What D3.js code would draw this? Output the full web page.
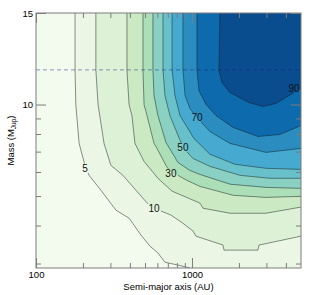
<!DOCTYPE html>
<html><head><meta charset="utf-8">
<script src="https://cdn.jsdelivr.net/npm/d3@7"></script>
<style>
html,body{margin:0;padding:0;background:#fff;}
text{font-family:"Liberation Sans",Arial,Helvetica,sans-serif;}
</style>
</head><body>
<svg id="chart" width="309" height="295"></svg>
<script>
// ---- data ----
const xDomain = [100, 5000];      // semi-major axis (AU)
const yDomain = [2.9, 20];        // mass (M_Jup)
const levels = [5, 10, 20, 30, 40, 50, 60, 70, 80, 90];
const bandColors = ["#f3faee", "#ebf7e4", "#ddf1d7", "#cbeac4", "#acdeb8",
                    "#8ad1c3", "#68c1ca", "#45a9d0", "#2b8cbf", "#0d6aad", "#0a4d8e"];

// contour polylines as [a (AU), M (M_Jup)]
const contour5  = [[178,20],[178,13.0],[180,10],[189,7.45],[206,6.31],[219,5.85],[261,5.22],[326,4.49],[395,4.23],[471,3.72],[538,3.42],[605,3.25],[671,3.03],[801,2.97],[971,2.9]];
const contour10 = [[242,20],[242,13.0],[250,10],[273,7.45],[302,6.31],[361,5.85],[438,5.22],[530,4.67],[571,4.56],[733,4.33],[875,4.07],[1014,3.84],[1061,3.69],[1581,3.45],[1604,3.32],[2649,3.32],[2687,3.45],[5000,3.69]];
const contour20 = [[383,20],[383,13.0],[395,10],[412,9.2],[431,7.45],[493,6.5],[605,5.72],[745,5.19],[1125,4.74],[1178,4.56],[1753,4.39],[2981,4.39],[5000,4.6]];
const contour30 = [[485,20],[485,13.0],[493,10],[515,9.2],[571,7.45],[597,7.17],[692,6.21],[745,5.98],[813,5.85],[929,5.63],[1125,5.38],[1832,5.03],[2981,4.95],[5000,4.99]];
const contour40 = [[562,20],[562,13.0],[571,10.7],[605,9.2],[681,7.51],[813,6.45],[971,6.07],[1125,5.89],[1753,5.47],[2981,5.34],[5000,5.30]];
const contour50 = [[652,20],[652,13.0],[671,10.7],[722,9.2],[875,7.23],[1014,6.65],[1304,6.26],[2032,5.85],[3162,5.72],[5000,5.72]];
const contour60 = [[745,20],[745,13.0],[778,10.7],[838,9.2],[1030,7.73],[1304,6.86],[1887,6.36],[2981,6.17],[5000,6.12]];
const contour70 = [[875,20],[875,13.0],[903,10.7],[971,9.7],[1076,9.06],[1304,8.15],[1753,7.45],[2981,6.96],[5000,7.17]];
const contour80 = [[1076,20],[1076,13.0],[1109,11.1],[1230,10],[1425,9.2],[1832,8.41],[2649,7.85],[3664,7.97],[5000,8.53]];
const contour90 = [[1511,20],[1489,12.9],[1557,11.8],[1753,10.95],[2318,10.15],[2852,9.85],[3454,10.08],[4188,10.7],[5000,11.28]];
const contourPaths = [contour5, contour10, contour20, contour30, contour40,
                      contour50, contour60, contour70, contour80, contour90];

const labelTexts = ["5", "10", "30", "50", "70", "90"];
const labelA = [206, 571, 733, 875, 1076, 4508];
const labelM = [6.17, 4.56, 5.94, 7.23, 9.06, 11.28];

const xMajor = [100, 1000];
const xMajorLabels = ["100", "1000"];
const xMinor = [200, 300, 400, 500, 600, 700, 800, 900, 2000, 3000, 4000];
const yMajor = [20, 10];
const yMajorLabels = ["15", "10"];
const yMinor = [9, 8, 7, 6, 5, 4, 3];
const dashedMass = 13;

// ---- layout ----
const L = 36, R = 301, T = 13, B = 268;
const FS = 9.5;
const svg = d3.select("#chart");
const x = d3.scaleLog().domain(xDomain).range([L, R]);
const y = d3.scaleLog().domain(yDomain).range([B, T]);

const defs = svg.append("defs");
defs.append("clipPath").attr("id", "plotclip")
  .append("rect").attr("x", L).attr("y", T).attr("width", R - L).attr("height", B - T);

const plot = svg.append("g").attr("clip-path", "url(#plotclip)");
plot.append("rect").attr("x", L).attr("y", T).attr("width", R - L).attr("height", B - T)
  .attr("fill", bandColors[0]);

const line = d3.line().x(d => x(d[0])).y(d => y(d[1]));

// filled bands (region above/right of each contour)
contourPaths.forEach((pts, i) => {
  const poly = pts.slice();
  const last = pts[pts.length - 1];
  if (last[1] <= yDomain[0] + 1e-9) poly.push([xDomain[1], yDomain[0]]);
  poly.push([xDomain[1], yDomain[1]]);
  plot.append("path").attr("d", line(poly) + "Z").attr("fill", bandColors[i + 1]).attr("stroke", "none");
});

// contour labels (measured for a mask that breaks the lines)
const mask = defs.append("mask").attr("id", "lblmask");
mask.append("rect").attr("x", 0).attr("y", 0).attr("width", 309).attr("height", 295).attr("fill", "white");

const lblG = svg.append("g");
const lbls = lblG.selectAll("text").data(labelTexts).join("text")
  .attr("x", (d, i) => x(labelA[i]))
  .attr("y", (d, i) => y(labelM[i]))
  .attr("dy", "0.35em")
  .attr("text-anchor", "middle")
  .attr("font-size", 10)
  .attr("fill", "#111")
  .text(d => d);
lbls.each(function () {
  const b = this.getBBox();
  mask.append("rect").attr("x", b.x - 1).attr("y", b.y + 1).attr("width", b.width + 2).attr("height", b.height - 2).attr("fill", "black");
});

// contour lines
const lineG = plot.append("g").attr("mask", "url(#lblmask)");
contourPaths.forEach(pts => {
  lineG.append("path").attr("d", line(pts)).attr("fill", "none")
    .attr("stroke", "rgba(20,30,30,0.55)").attr("stroke-width", 0.9);
});

// dashed line
plot.append("line").attr("x1", L).attr("x2", R).attr("y1", y(dashedMass)).attr("y2", y(dashedMass))
  .attr("stroke", "rgba(25,25,130,0.45)").attr("stroke-width", 1).attr("stroke-dasharray", "4,3");

lblG.raise();

// axes (ticks inward)
const axisStyle = g => {
  g.select(".domain").remove();
  g.selectAll(".tick line").attr("stroke", "#7d7d7d");
  g.selectAll("text").attr("font-size", FS).attr("fill", "#000")
    .attr("font-family", "'Liberation Sans', Arial, sans-serif");
};
svg.append("g").attr("transform", `translate(0,${B})`)
  .call(d3.axisBottom(x).tickValues(xMajor).tickFormat((d, i) => xMajorLabels[i]).tickSize(-10).tickPadding(3)).call(axisStyle);
svg.append("g").attr("transform", `translate(0,${B})`)
  .call(d3.axisBottom(x).tickValues(xMinor).tickFormat("").tickSize(-5)).call(axisStyle);
svg.append("g").attr("transform", `translate(0,${T})`)
  .call(d3.axisTop(x).tickValues(xMajor).tickFormat("").tickSize(-10)).call(axisStyle);
svg.append("g").attr("transform", `translate(0,${T})`)
  .call(d3.axisTop(x).tickValues(xMinor).tickFormat("").tickSize(-5)).call(axisStyle);
svg.append("g").attr("transform", `translate(${L},0)`)
  .call(d3.axisLeft(y).tickValues(yMajor).tickFormat((d, i) => yMajorLabels[i]).tickSize(-10).tickPadding(3)).call(axisStyle);
svg.append("g").attr("transform", `translate(${L},0)`)
  .call(d3.axisLeft(y).tickValues(yMinor).tickFormat("").tickSize(-5)).call(axisStyle);
svg.append("g").attr("transform", `translate(${R},0)`)
  .call(d3.axisRight(y).tickValues(yMajor).tickFormat("").tickSize(-10)).call(axisStyle);
svg.append("g").attr("transform", `translate(${R},0)`)
  .call(d3.axisRight(y).tickValues(yMinor).tickFormat("").tickSize(-5)).call(axisStyle);

// frame
svg.append("rect").attr("x", L).attr("y", T).attr("width", R - L).attr("height", B - T)
  .attr("fill", "none").attr("stroke", "#7d7d7d").attr("stroke-width", 1);

// axis titles
svg.append("text").attr("x", (L + R) / 2).attr("y", 289.5).attr("text-anchor", "middle")
  .attr("font-size", FS).attr("fill", "#000").text("Semi-major axis (AU)");
const yt = svg.append("text").attr("transform", `translate(13.5,${(T + B) / 2}) rotate(-90)`)
  .attr("text-anchor", "middle").attr("font-size", FS).attr("fill", "#000");
yt.append("tspan").text("Mass (M");
yt.append("tspan").attr("font-size", 6.5).attr("dy", 2.2).text("Jup");
yt.append("tspan").attr("dy", -2.2).text(")");
</script>
</body></html>
